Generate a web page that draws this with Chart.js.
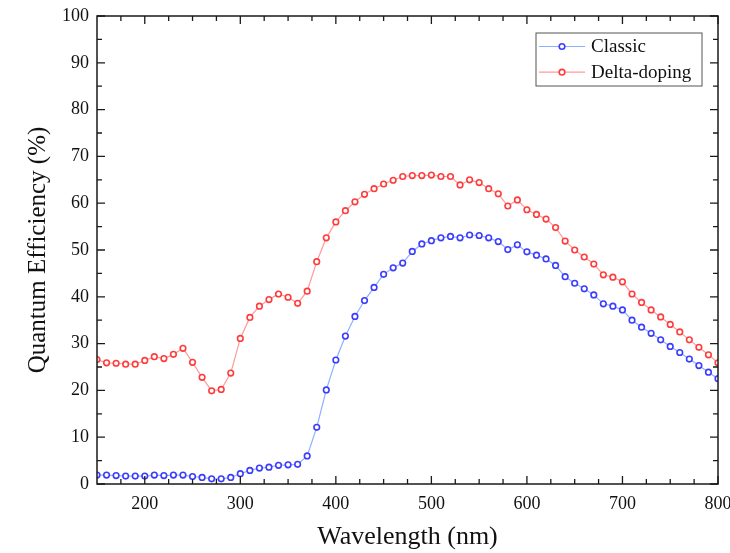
<!DOCTYPE html>
<html>
<head>
<meta charset="utf-8">
<title>Quantum Efficiency</title>
<script src="https://cdn.jsdelivr.net/npm/chart.js@4.4.1/dist/chart.umd.min.js"></script>
<style>
    html, body { margin: 0; padding: 0; background: #fff; }
    #wrap { width: 730px; height: 553px; }
</style>
</head>
<body>
<div id="wrap"><canvas id="qeChart" width="730" height="553"></canvas></div>
<script>
// Wavelength grid (nm)
const wavelengths = [
    150, 160, 170, 180, 190, 200, 210, 220, 230, 240,
    250, 260, 270, 280, 290, 300, 310, 320, 330, 340,
    350, 360, 370, 380, 390, 400, 410, 420, 430, 440,
    450, 460, 470, 480, 490, 500, 510, 520, 530, 540,
    550, 560, 570, 580, 590, 600, 610, 620, 630, 640,
    650, 660, 670, 680, 690, 700, 710, 720, 730, 740,
    750, 760, 770, 780, 790, 800
];

// QE (%) of the classic device
const classicQE = [
    1.9, 1.9, 1.8, 1.7, 1.7, 1.7, 1.9, 1.8, 1.9, 1.9,
    1.6, 1.4, 1.1, 1.1, 1.4, 2.2, 2.9, 3.4, 3.6, 4.0,
    4.1, 4.2, 6.0, 12.1, 20.1, 26.5, 31.6, 35.8, 39.2, 42.0,
    44.8, 46.2, 47.2, 49.7, 51.3, 52.0, 52.6, 52.9, 52.6, 53.2,
    53.1, 52.6, 51.8, 50.1, 51.1, 49.6, 48.9, 48.1, 46.7, 44.3,
    42.9, 41.7, 40.4, 38.5, 38.0, 37.2, 35.0, 33.5, 32.2, 30.8,
    29.4, 28.1, 26.7, 25.3, 23.9, 22.5
];

// QE (%) of the delta-doped device
const deltaQE = [
    26.6, 25.9, 25.8, 25.6, 25.6, 26.4, 27.2, 26.8, 27.7, 29.0,
    26.0, 22.8, 19.9, 20.2, 23.7, 31.1, 35.6, 38.0, 39.4, 40.6,
    39.9, 38.6, 41.2, 47.5, 52.6, 56.0, 58.4, 60.3, 61.9, 63.1,
    64.1, 64.9, 65.7, 65.9, 65.9, 66.0, 65.7, 65.7, 63.9, 65.0,
    64.4, 63.1, 62.0, 59.4, 60.7, 58.6, 57.6, 56.6, 54.8, 51.9,
    50.0, 48.5, 47.0, 44.7, 44.2, 43.2, 40.6, 38.8, 37.2, 35.7,
    34.1, 32.5, 30.8, 29.2, 27.6, 25.9
];

const xTickValues = [200, 300, 400, 500, 600, 700, 800];
const yTickValues = [0, 10, 20, 30, 40, 50, 60, 70, 80, 90, 100];

const FONT = '"Liberation Serif", "Times New Roman", serif';
const AXIS_COLOR = '#1a1a1a';

function toPoints(ys) {
    return wavelengths.map((x, i) => ({ x: x, y: ys[i] }));
}

// Closed frame with inward ticks on all four sides
const frameTicks = {
    id: 'frameTicks',
    afterDraw(chart) {
        const { ctx, chartArea: a, scales: { x, y } } = chart;
        ctx.save();
        ctx.strokeStyle = AXIS_COLOR;
        ctx.lineWidth = 1.5;
        ctx.strokeRect(a.left, a.top, a.right - a.left, a.bottom - a.top);

        ctx.lineWidth = 1.3;
        ctx.beginPath();
        for (let v = 175; v <= 800; v += 25) {
            const px = x.getPixelForValue(v);
            const len = v % 100 === 0 ? 8 : 5;
            ctx.moveTo(px, a.bottom); ctx.lineTo(px, a.bottom - len);
            ctx.moveTo(px, a.top); ctx.lineTo(px, a.top + len);
        }
        for (let v = 0; v <= 100; v += 5) {
            const py = y.getPixelForValue(v);
            const len = v % 10 === 0 ? 8 : 5;
            ctx.moveTo(a.left, py); ctx.lineTo(a.left + len, py);
            ctx.moveTo(a.right, py); ctx.lineTo(a.right - len, py);
        }
        ctx.stroke();
        ctx.restore();
    }
};

// Boxed legend: line segment with a circle marker, then label
const boxLegend = {
    id: 'boxLegend',
    afterDraw(chart) {
        const { ctx, chartArea: a } = chart;
        const w = 166, h = 53;
        const left = a.right - 16 - w;
        const top = a.top + 17;
        ctx.save();
        ctx.strokeStyle = '#555';
        ctx.lineWidth = 1;
        ctx.strokeRect(left, top, w, h);
        ctx.font = '19px ' + FONT;
        ctx.textBaseline = 'middle';
        chart.data.datasets.forEach((ds, i) => {
            const cy = top + 13.5 + i * 25.7;
            ctx.strokeStyle = ds.borderColor;
            ctx.lineWidth = 1.2;
            ctx.beginPath();
            ctx.moveTo(left + 3, cy);
            ctx.lineTo(left + 49, cy);
            ctx.stroke();
            ctx.beginPath();
            ctx.arc(left + 26, cy, ds.pointRadius, 0, Math.PI * 2);
            ctx.fillStyle = '#fff';
            ctx.fill();
            ctx.strokeStyle = ds.pointBorderColor;
            ctx.lineWidth = ds.pointBorderWidth;
            ctx.stroke();
            ctx.fillStyle = '#111';
            ctx.fillText(ds.label, left + 55, cy + 1);
        });
        ctx.restore();
    }
};

const ctx = document.getElementById('qeChart').getContext('2d');
new Chart(ctx, {
    type: 'line',
    data: {
        datasets: [
            {
                label: 'Classic',
                data: toPoints(classicQE),
                borderColor: '#8cb0ff',
                borderWidth: 1.2,
                pointRadius: 2.8,
                pointBorderWidth: 1.6,
                pointBorderColor: '#3c3cff',
                pointBackgroundColor: '#ffffff',
                tension: 0
            },
            {
                label: 'Delta-doping',
                data: toPoints(deltaQE),
                borderColor: '#ff9a9a',
                borderWidth: 1.2,
                pointRadius: 2.8,
                pointBorderWidth: 1.6,
                pointBorderColor: '#ff3c3c',
                pointBackgroundColor: '#ffffff',
                tension: 0
            }
        ]
    },
    options: {
        responsive: false,
        animation: false,
        layout: { padding: { top: 16, right: 12, left: 0, bottom: 0 } },
        plugins: {
            legend: { display: false },
            tooltip: { enabled: false }
        },
        scales: {
            x: {
                type: 'linear',
                min: 150,
                max: 800,
                grid: { display: false, drawTicks: false },
                border: { display: false },
                afterBuildTicks: scale => { scale.ticks = xTickValues.map(v => ({ value: v })); },
                afterFit: scale => {
                    // let the end labels overhang instead of shrinking the plot
                    scale.height = 69;
                    scale.paddingLeft = 0;
                    scale.paddingRight = 0;
                },
                ticks: {
                    padding: 9,
                    color: '#111',
                    maxRotation: 0,
                    font: { family: FONT, size: 18 }
                },
                title: {
                    display: true,
                    text: 'Wavelength (nm)',
                    color: '#111',
                    padding: { top: 0, bottom: 0 },
                    font: { family: FONT, size: 26 }
                }
            },
            y: {
                min: 0,
                max: 100,
                grid: { display: false, drawTicks: false },
                border: { display: false },
                afterBuildTicks: scale => { scale.ticks = yTickValues.map(v => ({ value: v })); },
                afterFit: scale => {
                    scale.width = 97;
                    scale.paddingTop = 0;
                    scale.paddingBottom = 0;
                },
                ticks: {
                    padding: 8,
                    color: '#111',
                    font: { family: FONT, size: 18 }
                },
                title: {
                    display: true,
                    text: 'Quantum Efficiency (%)',
                    color: '#111',
                    padding: { top: 23, bottom: 0 },
                    font: { family: FONT, size: 25 }
                }
            }
        }
    },
    plugins: [frameTicks, boxLegend]
});
</script>
</body>
</html>
